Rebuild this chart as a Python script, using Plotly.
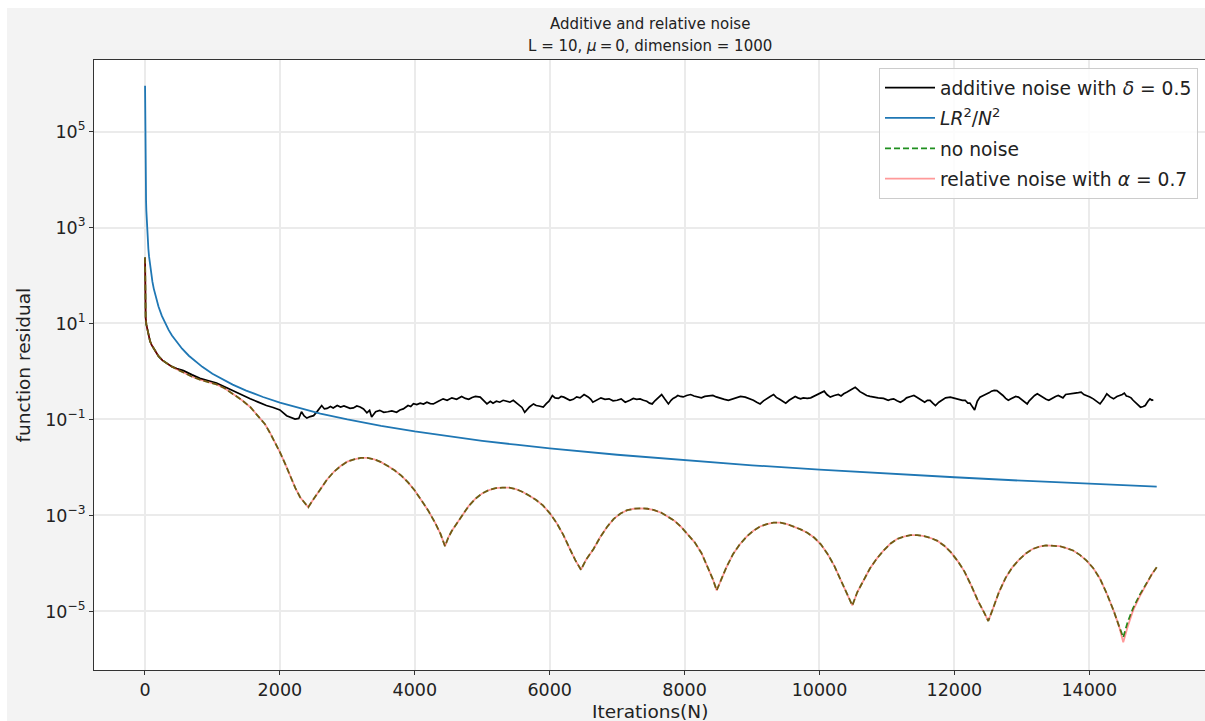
import plotly.graph_objects as go

# ---------------- data ----------------
iters_lr = [1, 2, 3, 4, 6, 8, 10, 13, 16, 20, 25, 30, 40, 50, 60, 75, 90, 110, 130,
            150, 175, 200, 250, 300, 350, 400, 475, 550, 650, 750, 850, 1000, 1150,
            1300, 1500, 1750, 2000, 2300, 2600, 3000, 3500, 4000, 4500, 5000, 5500,
            6000, 7000, 8000, 9000, 10000, 11000, 12000, 13000, 14000, 15000]
lr_bound = [9.0e5, 2.25e5, 1.0e5, 5.6e4, 2.5e4, 1.4e4, 9000, 5330, 3520, 2250, 1440,
            1000, 563, 360, 250, 160, 111, 74.4, 53.3, 40, 29.4, 22.5, 14.4, 10, 7.35,
            5.63, 3.99, 2.98, 2.13, 1.6, 1.25, 0.9, 0.68, 0.533, 0.4, 0.294, 0.225,
            0.17, 0.133, 0.1, 0.0735, 0.0563, 0.0444, 0.036, 0.0298, 0.025, 0.0184,
            0.0141, 0.0111, 0.009, 0.0074, 0.00625, 0.0053, 0.0046, 0.004]

iters_clean = [1, 2, 4, 7, 10, 20, 35, 50, 75, 100, 150, 200, 260, 320, 400, 470, 550,
               620, 700, 815, 930, 1060, 1180, 1310, 1430, 1560, 1700, 1780, 1850,
               1920, 2000, 2080, 2150, 2230, 2300, 2370, 2421,
               2480, 2550, 2600, 2700, 2800, 2900, 3000, 3100, 3200, 3300, 3400, 3500,
               3600, 3700, 3800, 3900, 4000, 4100, 4200, 4300, 4380, 4448,
               4500, 4550, 4620, 4700, 4800, 4900, 5000, 5100, 5200, 5300, 5400, 5500,
               5600, 5700, 5800, 5900, 6000, 6100, 6200, 6300, 6380, 6464,
               6540, 6650, 6750, 6850, 6950, 7050, 7150, 7250, 7350, 7450, 7550, 7650,
               7750, 7850, 7950, 8050, 8150, 8250, 8350, 8420, 8476,
               8540, 8620, 8720, 8820, 8920, 9020, 9120, 9220, 9320, 9420, 9520, 9620,
               9720, 9820, 9920, 10020, 10120, 10220, 10320, 10410, 10487,
               10560, 10650, 10750, 10850, 10950, 11050, 11150, 11250, 11350, 11450,
               11550, 11650, 11750, 11850, 11950, 12050, 12150, 12250, 12350, 12440,
               12503,
               12570, 12660, 12760, 12860, 12960, 13060, 13160, 13260, 13360, 13460,
               13560, 13660, 13760, 13860, 13960, 14060, 14160, 14260, 14360, 14440,
               14504, 14570, 14650, 14750, 14850, 14930, 15000]
no_noise = [237, 79.4, 31.6, 17.8, 13.2, 9.55, 7.41, 6.31, 4.27, 3.55, 2.63, 2.09, 1.70,
            1.48, 1.26, 1.12, 0.977, 0.871, 0.776, 0.676, 0.617, 0.537, 0.447, 0.339,
            0.257, 0.182, 0.110, 0.0794, 0.0537, 0.0347, 0.0209, 0.0117, 0.00661,
            0.00372, 0.0024, 0.00178, 0.00148,
            2.0e-3, 2.82e-3, 3.47e-3, 5.62e-3, 8.13e-3, 0.0107, 0.0132, 0.0148, 0.0158,
            0.0158, 0.0148, 0.0129, 0.0107, 8.71e-3, 6.76e-3, 4.90e-3, 3.31e-3,
            2.09e-3, 1.26e-3, 7.08e-4, 4.17e-4, 2.29e-4,
            3.55e-4, 4.79e-4, 6.76e-4, 9.77e-4, 1.58e-3, 2.24e-3, 2.88e-3, 3.39e-3,
            3.72e-3, 3.80e-3, 3.80e-3, 3.55e-3, 3.09e-3, 2.57e-3, 2.09e-3, 1.62e-3,
            1.12e-3, 7.08e-4, 3.98e-4, 2.0e-4, 1.17e-4, 7.41e-5,
            1.20e-4, 2.0e-4, 3.55e-4, 5.75e-4, 8.51e-4, 1.10e-3, 1.29e-3, 1.38e-3,
            1.41e-3, 1.38e-3, 1.29e-3, 1.15e-3, 9.55e-4, 7.76e-4, 5.75e-4, 4.07e-4,
            2.75e-4, 1.66e-4, 7.94e-5, 4.68e-5, 2.75e-5,
            4.68e-5, 8.32e-5, 1.58e-4, 2.51e-4, 3.63e-4, 4.79e-4, 5.89e-4, 6.61e-4,
            7.08e-4, 7.08e-4, 6.61e-4, 5.89e-4, 5.13e-4, 4.37e-4, 3.47e-4, 2.51e-4,
            1.58e-4, 8.91e-5, 4.47e-5, 2.40e-5, 1.33e-5,
            2.51e-5, 4.47e-5, 7.94e-5, 1.26e-4, 1.86e-4, 2.57e-4, 3.24e-4, 3.63e-4,
            3.89e-4, 3.89e-4, 3.72e-4, 3.39e-4, 2.95e-4, 2.34e-4, 1.70e-4, 1.12e-4,
            6.76e-5, 3.47e-5, 1.66e-5, 9.55e-6, 6.31e-6,
            1.12e-5, 2.51e-5, 5.01e-5, 8.32e-5, 1.20e-4, 1.62e-4, 2.0e-4, 2.24e-4,
            2.37e-4, 2.37e-4, 2.29e-4, 2.09e-4, 1.86e-4, 1.51e-4, 1.15e-4, 7.94e-5,
            4.79e-5, 2.34e-5, 1.05e-5, 5.01e-6,
            2.88e-6, 6.03e-6, 1.17e-5, 2.24e-5, 3.98e-5, 6.03e-5, 8.32e-5]
# relative noise coincides with the noiseless run except in the last dip
relative_noise_tail = [2.29e-6, 4.79e-6, 1.05e-5, 2.09e-5, 3.80e-5, 6.03e-5, 8.32e-5]
relative_noise = no_noise[:-len(relative_noise_tail)] + relative_noise_tail

iters_add = [1, 2, 4, 7, 10, 20, 35, 50, 75, 100, 150, 200, 260, 320, 400, 470, 570,
             700, 815, 930, 1060, 1180, 1310, 1430, 1560, 1680, 1800, 1900, 2000,
             2100, 2160, 2225, 2280, 2320, 2360, 2400, 2450, 2500, 2560, 2620, 2660,
             2700, 2750, 2790, 2850, 2900, 2950, 2990, 3040, 3090, 3140, 3190, 3240,
             3290, 3330, 3360, 3390, 3420, 3480, 3540, 3600, 3660, 3730, 3780, 3830,
             3900, 3940, 3980, 4030, 4080, 4130, 4180, 4230, 4275, 4350, 4420, 4480,
             4550, 4620, 4695, 4750, 4800, 4850, 4900, 4970, 5020, 5070, 5120, 5160,
             5210, 5260, 5310, 5360, 5410, 5460, 5500, 5550, 5590, 5630, 5670, 5700,
             5760, 5800, 5840, 5905, 5950, 5990, 6040, 6080, 6130, 6170, 6210, 6250,
             6300, 6350, 6400, 6450, 6510, 6570, 6610, 6640, 6700, 6760, 6820, 6880,
             6940, 7000, 7060, 7120, 7190, 7240, 7290, 7340, 7390, 7440, 7480, 7520,
             7560, 7610, 7660, 7710, 7760, 7800, 7830, 7870, 7900, 7940, 7980, 8030,
             8090, 8140, 8200, 8250, 8300, 8360, 8420, 8470, 8530, 8590, 8650, 8710,
             8770, 8830, 8900, 8960, 9020, 9070, 9120, 9170, 9220, 9270, 9320, 9360,
             9410, 9450, 9500, 9550, 9590, 9640, 9680, 9720, 9760, 9820, 9870, 9930,
             9980, 10030, 10070, 10110, 10160, 10220, 10280, 10320, 10360, 10410,
             10450, 10490, 10530, 10570, 10600, 10650, 10700, 10750, 10800, 10870,
             10950, 10990, 11020, 11060, 11100, 11150, 11200, 11250, 11290, 11350,
             11400, 11450, 11490, 11520, 11560, 11600, 11640, 11680, 11720, 11770,
             11810, 11870, 11940, 12010, 12080, 12120, 12160, 12200, 12230, 12270,
             12300, 12340, 12380, 12430, 12480, 12520, 12550, 12590, 12630, 12680,
             12720, 12760, 12800, 12840, 12870, 12910, 12950, 12990, 13020, 13050,
             13080, 13110, 13150, 13190, 13230, 13280, 13320, 13360, 13400, 13440,
             13470, 13500, 13540, 13580, 13610, 13650, 13700, 13750, 13790, 13840,
             13880, 13920, 13960, 14010, 14060, 14110, 14160, 14210, 14260, 14310,
             14360, 14410, 14460, 14490, 14520, 14550, 14580, 14620, 14650, 14680,
             14700, 14730, 14760, 14800, 14830, 14870, 14900, 14930, 14950, 14980,
             15000]
additive_noise = [237, 79.4, 31.6, 17.8, 13.2, 9.55, 7.41, 6.31, 4.27, 3.55, 2.63, 2.09,
                  1.70, 1.48, 1.26, 1.15, 1.04, 0.85, 0.72, 0.65, 0.575, 0.48, 0.39,
                  0.33, 0.27, 0.23, 0.195, 0.178, 0.158, 0.12, 0.112, 0.102, 0.105,
                  0.145, 0.118, 0.107, 0.115, 0.12, 0.151, 0.195, 0.166, 0.17, 0.186,
                  0.174, 0.195, 0.182, 0.191, 0.182, 0.17, 0.174, 0.191, 0.182, 0.166,
                  0.138, 0.155, 0.112, 0.132, 0.145, 0.155, 0.141, 0.145, 0.151, 0.141,
                  0.158, 0.166, 0.195, 0.186, 0.214, 0.204, 0.219, 0.209, 0.229, 0.214,
                  0.211, 0.24, 0.269, 0.251, 0.282, 0.263, 0.302, 0.275, 0.263, 0.288,
                  0.302, 0.292, 0.251, 0.211, 0.24, 0.219, 0.24, 0.229, 0.251, 0.24,
                  0.229, 0.251, 0.224, 0.2, 0.178, 0.141, 0.166, 0.182, 0.211, 0.195,
                  0.191, 0.182, 0.214, 0.24, 0.316, 0.282, 0.275, 0.302, 0.292, 0.269,
                  0.251, 0.263, 0.295, 0.282, 0.331, 0.295, 0.263, 0.229, 0.251, 0.282,
                  0.263, 0.269, 0.245, 0.251, 0.269, 0.229, 0.251, 0.275, 0.263, 0.269,
                  0.251, 0.24, 0.219, 0.211, 0.245, 0.282, 0.331, 0.263, 0.211, 0.251,
                  0.275, 0.295, 0.316, 0.302, 0.295, 0.316, 0.331, 0.309, 0.295, 0.282,
                  0.302, 0.309, 0.316, 0.295, 0.275, 0.263, 0.251, 0.269, 0.282, 0.302,
                  0.292, 0.275, 0.251, 0.229, 0.211, 0.245, 0.275, 0.302, 0.331, 0.288,
                  0.263, 0.24, 0.219, 0.251, 0.275, 0.302, 0.282, 0.269, 0.282, 0.275,
                  0.282, 0.309, 0.339, 0.363, 0.389, 0.331, 0.292, 0.316, 0.331, 0.309,
                  0.343, 0.372, 0.398, 0.42, 0.468, 0.42, 0.38, 0.347, 0.316, 0.302,
                  0.292, 0.282, 0.275, 0.263, 0.251, 0.263, 0.269, 0.245, 0.229, 0.251,
                  0.282, 0.302, 0.316, 0.288, 0.263, 0.245, 0.229, 0.251, 0.251, 0.219,
                  0.195, 0.229, 0.251, 0.282, 0.292, 0.275, 0.263, 0.251, 0.251, 0.219,
                  0.219, 0.182, 0.158, 0.24, 0.292, 0.316, 0.339, 0.363, 0.389, 0.403,
                  0.398, 0.355, 0.316, 0.275, 0.251, 0.269, 0.282, 0.302, 0.292, 0.263,
                  0.251, 0.229, 0.211, 0.245, 0.282, 0.316, 0.343, 0.309, 0.282, 0.263,
                  0.251, 0.275, 0.288, 0.302, 0.316, 0.295, 0.282, 0.331, 0.343, 0.355,
                  0.355, 0.363, 0.372, 0.331, 0.316, 0.295, 0.269, 0.24, 0.211, 0.263,
                  0.343, 0.295, 0.269, 0.302, 0.316, 0.331, 0.355, 0.309, 0.302, 0.282,
                  0.251, 0.229, 0.209, 0.191, 0.18, 0.186, 0.195, 0.24, 0.269, 0.251,
                  0.257]

x_ticks = [0, 2000, 4000, 6000, 8000, 10000, 12000, 14000]
y_ticks = [1e-5, 1e-3, 1e-1, 1e1, 1e3, 1e5]
y_ticktext = ["10<sup>−5</sup>", "10<sup>−3</sup>", "10<sup>−1</sup>",
              "10<sup>1</sup>", "10<sup>3</sup>", "10<sup>5</sup>"]

FONT = "DejaVu Sans"
W, H = 1205, 721
L, R, T, B = 94, 0, 60, 51
PW, PH = W - L - R, H - T - B


def px_x(p):
    return (p - L) / PW


def px_y(p):
    return (H - B - p) / PH


fig = go.Figure()
fig.add_trace(go.Scatter(x=iters_add, y=additive_noise, mode="lines",
                         name="additive noise with <i>δ</i> = 0.5", legendgroup="a",
                         line=dict(color="#000000", width=1.7)))
fig.add_trace(go.Scatter(x=iters_lr, y=lr_bound, mode="lines",
                         name="<i>LR</i><sup>2</sup>/<i>N</i><sup>2</sup>",
                         legendgroup="b",
                         line=dict(color="#1f77b4", width=1.8)))
fig.add_trace(go.Scatter(x=iters_clean, y=no_noise, mode="lines",
                         name="no noise", legendgroup="c",
                         line=dict(color="#1f8f1f", width=1.8, dash="6px,3px")))
fig.add_trace(go.Scatter(x=iters_clean, y=relative_noise, mode="lines",
                         name="relative noise with <i>α</i> = 0.7", legendgroup="d",
                         line=dict(color="rgba(255,0,0,0.4)", width=1.8)))

axis_common = dict(
    showgrid=True, gridcolor="#ebebeb", gridwidth=1.5,
    showline=True, linecolor="#333333", linewidth=1,
    ticks="outside", ticklen=4, tickwidth=1, tickcolor="#333333",
    tickfont=dict(family=FONT, size=17.5, color="#222222"),
    zeroline=False,
)

fig.update_xaxes(range=[-756, 15716], tickvals=x_ticks,
                 ticktext=[str(v) for v in x_ticks], mirror=True, **axis_common)
fig.update_yaxes(type="log", range=[-6.22, 6.49], tickvals=y_ticks,
                 ticktext=y_ticktext, mirror=False, **axis_common)

annotations = [
    dict(text="Additive and relative noise", x=0.5, y=px_y(24), xref="paper",
         yref="paper", showarrow=False, xanchor="center", yanchor="middle",
         font=dict(family=FONT, size=15, color="#222222")),
    dict(text="L = 10, <i>μ</i>\u2009=\u20090, dimension = 1000", x=0.5, y=px_y(46),
         xref="paper", yref="paper", showarrow=False, xanchor="center",
         yanchor="middle", font=dict(family=FONT, size=15, color="#222222")),
    dict(text="Iterations(N)", x=px_x(650), y=px_y(711), xref="paper", yref="paper",
         showarrow=False, xanchor="center", yanchor="middle",
         font=dict(family=FONT, size=18.5, color="#222222")),
    dict(text="function residual", x=px_x(22.5), y=0.5, xref="paper", yref="paper",
         showarrow=False, xanchor="center", yanchor="middle", textangle=-90,
         font=dict(family=FONT, size=18.5, color="#222222")),
]

shapes = [
    dict(type="rect", xref="paper", yref="paper", x0=px_x(-5), x1=px_x(7),
         y0=px_y(H + 5), y1=px_y(-5), fillcolor="white", line=dict(width=0),
         layer="above"),
    dict(type="rect", xref="paper", yref="paper", x0=px_x(-5), x1=px_x(W + 5),
         y0=px_y(8), y1=px_y(-5), fillcolor="white", line=dict(width=0),
         layer="above"),
]

fig.update_layout(
    width=W, height=H,
    margin=dict(l=L, r=R, t=T, b=B, pad=0),
    paper_bgcolor="#f3f3f3", plot_bgcolor="white",
    font=dict(family=FONT, size=17, color="#222222"),
    showlegend=True,
    legend=dict(x=px_x(879), y=px_y(68), xanchor="left", yanchor="top",
                bgcolor="rgba(255,255,255,0.85)", bordercolor="#cccccc",
                borderwidth=1, itemwidth=50, tracegroupgap=3,
                font=dict(family=FONT, size=18.7, color="#222222")),
    annotations=annotations,
    shapes=shapes,
)

fig.write_html("out.html")
